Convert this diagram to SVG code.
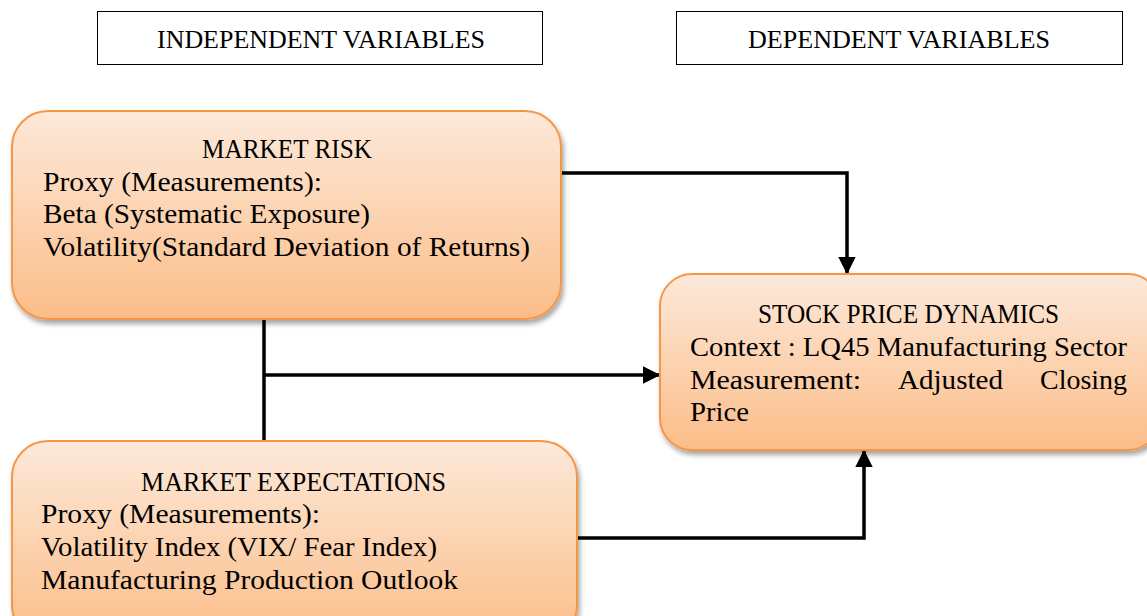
<svg xmlns="http://www.w3.org/2000/svg" width="1147" height="616" viewBox="0 0 1147 616">
<defs>
<linearGradient id="g" x1="0" y1="0" x2="0" y2="1">
<stop offset="0" stop-color="#fde9da"/>
<stop offset="1" stop-color="#fbbd88"/>
</linearGradient>
<filter id="sh" x="-5%" y="-5%" width="115%" height="120%">
<feDropShadow dx="2" dy="4" stdDeviation="2.5" flood-color="#000" flood-opacity="0.35"/>
</filter>
<marker id="ah" markerWidth="5" markerHeight="5" refX="4.6" refY="2.5" orient="auto" markerUnits="strokeWidth">
<path d="M0,0 L5,2.5 L0,5 Z" fill="#000"/>
</marker>
</defs>
<style>
text{font-family:"Liberation Serif","DejaVu Serif",serif;fill:#000;font-size:27px}
.hdr{font-size:26px}
.box{fill:url(#g);stroke:#f79646;stroke-width:2;filter:url(#sh)}
.hb{fill:#fff;stroke:#000;stroke-width:1}
.c{fill:none;stroke:#000;stroke-width:3.5}
</style>
<rect width="1147" height="616" fill="#fff"/>
<g id="independent-header">
<rect class="hb" x="97.5" y="11.5" width="445" height="53"/>
<text class="hdr" x="157" y="48" textLength="328" lengthAdjust="spacingAndGlyphs">INDEPENDENT VARIABLES</text>
</g>
<g id="dependent-header">
<rect class="hb" x="676.5" y="11.5" width="446" height="53"/>
<text class="hdr" x="748" y="48" textLength="302" lengthAdjust="spacingAndGlyphs">DEPENDENT VARIABLES</text>
</g>
<g id="connectors">
<path class="c" d="M561,173 H847 V273" marker-end="url(#ah)"/>
<path class="c" d="M264,319 V441"/>
<path class="c" d="M264,375 H659" marker-end="url(#ah)"/>
<path class="c" d="M577,538 H864 V451" marker-end="url(#ah)"/>
</g>
<g id="market-risk">
<rect class="box" x="12" y="111" width="549" height="208" rx="36"/>
<text x="202" y="158" textLength="170" lengthAdjust="spacingAndGlyphs">MARKET RISK</text>
<text x="43" y="191" textLength="279" lengthAdjust="spacingAndGlyphs">Proxy (Measurements):</text>
<text x="43" y="223" textLength="327" lengthAdjust="spacingAndGlyphs">Beta (Systematic Exposure)</text>
<text x="43" y="256" textLength="487" lengthAdjust="spacingAndGlyphs">Volatility(Standard Deviation of Returns)</text>
</g>
<g id="market-expectations">
<rect class="box" x="12" y="441" width="565" height="200" rx="36"/>
<text x="141" y="491" textLength="305" lengthAdjust="spacingAndGlyphs">MARKET EXPECTATIONS</text>
<text x="41" y="523" textLength="279" lengthAdjust="spacingAndGlyphs">Proxy (Measurements):</text>
<text x="41" y="556" textLength="396" lengthAdjust="spacingAndGlyphs">Volatility Index (VIX/ Fear Index)</text>
<text x="41" y="589" textLength="417" lengthAdjust="spacingAndGlyphs">Manufacturing Production Outlook</text>
</g>
<g id="stock-price-dynamics">
<rect class="box" x="660" y="274" width="500" height="176" rx="32"/>
<text x="758" y="323" textLength="301" lengthAdjust="spacingAndGlyphs">STOCK PRICE DYNAMICS</text>
<text x="690" y="356" textLength="437" lengthAdjust="spacingAndGlyphs">Context : LQ45 Manufacturing Sector</text>
<text x="690" y="389" textLength="171" lengthAdjust="spacingAndGlyphs">Measurement:</text>
<text x="898" y="389" textLength="105" lengthAdjust="spacingAndGlyphs">Adjusted</text>
<text x="1040" y="389" textLength="87" lengthAdjust="spacingAndGlyphs">Closing</text>
<text x="690" y="421" textLength="59" lengthAdjust="spacingAndGlyphs">Price</text>
</g>
</svg>
